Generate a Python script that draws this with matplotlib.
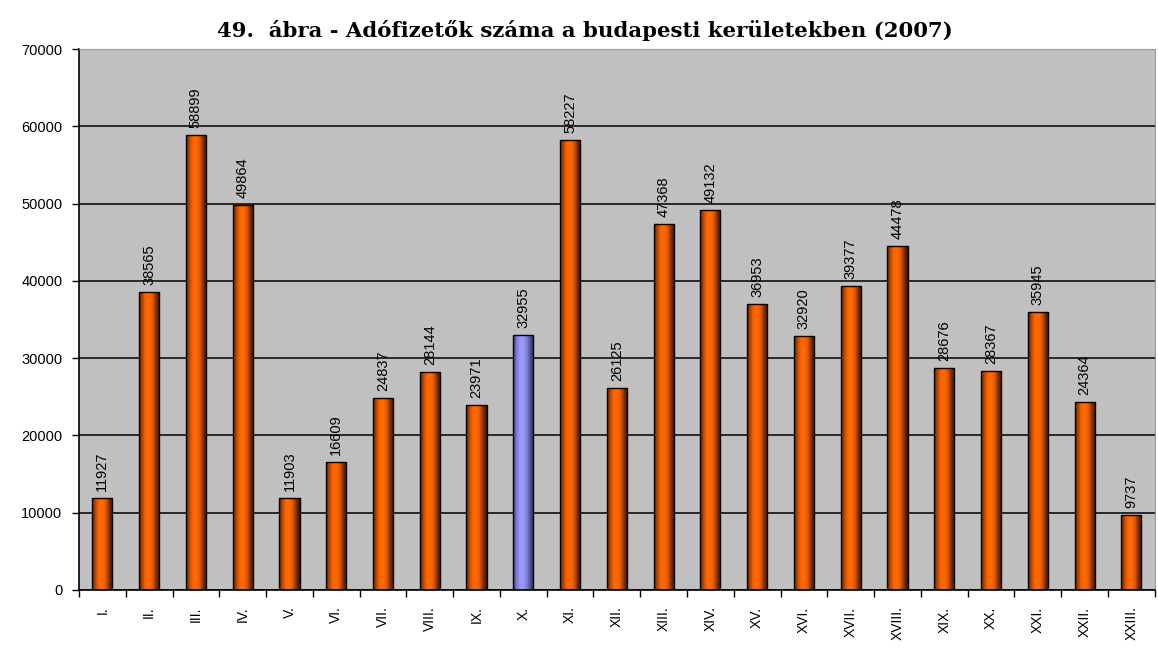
import numpy as np
import matplotlib.pyplot as plt
from matplotlib.colors import LinearSegmentedColormap

kerulet = ['I.', 'II.', 'III.', 'IV.', 'V.', 'VI.', 'VII.', 'VIII.', 'IX.', 'X.',
           'XI.', 'XII.', 'XIII.', 'XIV.', 'XV.', 'XVI.', 'XVII.', 'XVIII.',
           'XIX.', 'XX.', 'XXI.', 'XXII.', 'XXIII.']
adofizetok = [11927, 38565, 58899, 49864, 11903, 16609, 24837, 28144, 23971, 32955,
              58227, 26125, 47368, 49132, 36953, 32920, 39377, 44478,
              28676, 28367, 35945, 24364, 9737]
kiemelt = 'X.'

fig = plt.figure(figsize=(11.58, 6.54), dpi=100)
ax = fig.add_axes([0.0682, 0.098, 0.929, 0.827])
ax.set_facecolor('#C0C0C0')

narancs = LinearSegmentedColormap.from_list(
    'narancs', ['#5a2200', '#c04a00', '#ff6600', '#ff6a05', '#e05800', '#7a2e00', '#3a1500'])
lila = LinearSegmentedColormap.from_list(
    'lila', ['#3c3c78', '#7c7cd0', '#9999ff', '#9a9aff', '#8080d8', '#50508c', '#2c2c5a'])
grad = np.linspace(0, 1, 64).reshape(1, -1)

x = np.arange(len(kerulet))
w = 0.43
bars = ax.bar(x, adofizetok, width=w, color='none', edgecolor='black', linewidth=1.0, zorder=3)
for b, nev, v in zip(bars, kerulet, adofizetok):
    cmap = lila if nev == kiemelt else narancs
    im = ax.imshow(grad, extent=[b.get_x(), b.get_x() + w, 0, v], cmap=cmap,
                   aspect='auto', zorder=2, interpolation='bicubic')
    im.set_clip_path(b)
    ax.text(b.get_x() + w / 2, v + 900, str(v), rotation=90, ha='center', va='bottom',
            fontsize=10.5, family='Liberation Sans', zorder=4)

ax.set_xlim(-0.5, len(kerulet) - 0.5)
ax.set_ylim(0, 70000)
ax.set_yticks(np.arange(0, 70001, 10000))
ax.set_yticklabels([str(t) for t in range(0, 70001, 10000)], family='Liberation Sans', fontsize=10.5)
ax.yaxis.grid(True, color='black', linewidth=1.1, zorder=1)
ax.set_axisbelow(True)

# ticks between the categories, labels under the bars
ax.set_xticks(np.arange(-0.5, len(kerulet), 1))
ax.set_xticklabels([])
ax.set_xticks(x, minor=True)
ax.set_xticklabels(kerulet, minor=True, rotation=90, family='Liberation Sans', fontsize=10,
                   va='top')
ax.tick_params(axis='x', which='minor', length=0, pad=12)
ax.tick_params(axis='x', which='major', direction='out', length=5, width=1)
ax.tick_params(axis='y', direction='out', length=5, width=1, pad=7)

for s in ['top', 'right']:
    ax.spines[s].set_color('#9a9a9a')
for s in ['left', 'bottom']:
    ax.spines[s].set_linewidth(1.2)

fig.text(0.505, 0.953, '49.  ábra - Adófizetők száma a budapesti kerületekben (2007)',
         ha='center', va='center', fontsize=15.3, fontweight='bold', family='DejaVu Serif')

fig.savefig('out.png', dpi=100)
